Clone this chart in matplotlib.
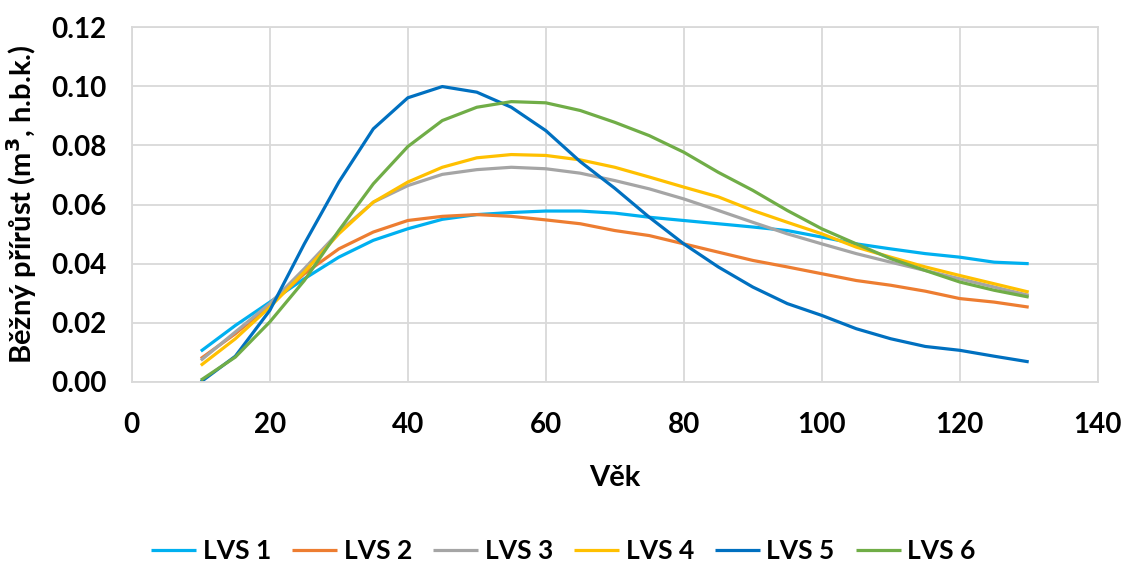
import matplotlib
matplotlib.use("Agg")
import matplotlib.pyplot as plt

plt.rcParams['font.family'] = ['Lato', 'DejaVu Sans']

age = [10, 15, 20, 25, 30, 35, 40, 45, 50, 55, 60, 65, 70, 75, 80, 85, 90,
       95, 100, 105, 110, 115, 120, 125, 130]

lvs1 = [0.0104, 0.0191, 0.0270, 0.0349, 0.0422, 0.0479, 0.0518, 0.0550, 0.0566,
        0.0573, 0.0578, 0.0578, 0.0571, 0.0557, 0.0546, 0.0535, 0.0524, 0.0512,
        0.0490, 0.0467, 0.0450, 0.0434, 0.0422, 0.0405, 0.0400]
lvs2 = [0.0079, 0.0163, 0.0259, 0.0366, 0.0450, 0.0507, 0.0546, 0.0560, 0.0566,
        0.0560, 0.0548, 0.0535, 0.0512, 0.0495, 0.0467, 0.0439, 0.0411, 0.0389,
        0.0366, 0.0343, 0.0327, 0.0307, 0.0282, 0.0270, 0.0253]
lvs3 = [0.0073, 0.0169, 0.0265, 0.0383, 0.0507, 0.0608, 0.0664, 0.0702, 0.0718,
        0.0726, 0.0721, 0.0706, 0.0681, 0.0653, 0.0619, 0.0580, 0.0540, 0.0501,
        0.0467, 0.0434, 0.0405, 0.0377, 0.0349, 0.0321, 0.0293]
lvs4 = [0.0056, 0.0146, 0.0253, 0.0372, 0.0501, 0.0608, 0.0676, 0.0726, 0.0758,
        0.0769, 0.0766, 0.0751, 0.0726, 0.0693, 0.0659, 0.0626, 0.0580, 0.0540,
        0.0501, 0.0456, 0.0422, 0.0389, 0.0360, 0.0332, 0.0304]
lvs5 = [0.0000, 0.0087, 0.0242, 0.0467, 0.0676, 0.0856, 0.0961, 0.0999, 0.0980,
        0.0929, 0.0850, 0.0745, 0.0655, 0.0557, 0.0467, 0.0389, 0.0321, 0.0265,
        0.0225, 0.0180, 0.0146, 0.0120, 0.0107, 0.0087, 0.0068]
lvs6 = [0.0006, 0.0084, 0.0203, 0.0343, 0.0512, 0.0670, 0.0796, 0.0884, 0.0929,
        0.0948, 0.0944, 0.0918, 0.0878, 0.0833, 0.0777, 0.0709, 0.0648, 0.0580,
        0.0518, 0.0467, 0.0417, 0.0377, 0.0338, 0.0310, 0.0287]

series = [("LVS 1", lvs1, "#00B0F0"),
          ("LVS 2", lvs2, "#ED7D31"),
          ("LVS 3", lvs3, "#A5A5A5"),
          ("LVS 4", lvs4, "#FFC000"),
          ("LVS 5", lvs5, "#0070C0"),
          ("LVS 6", lvs6, "#70AD47")]

fig = plt.figure(figsize=(11.27, 5.65), dpi=100)
ax = fig.add_axes([0.117, 0.324, 0.857, 0.628])

for name, vals, col in series:
    ax.plot(age, vals, color=col, lw=2.3, label=name, solid_capstyle='butt')

ax.set_xlim(0, 140)
ax.set_ylim(0, 0.12)
ax.set_xticks(range(0, 141, 20))
ax.set_yticks([0.0, 0.02, 0.04, 0.06, 0.08, 0.10, 0.12])
ax.set_yticklabels([f"{v:.2f}" for v in ax.get_yticks()])
ax.grid(True, color="#d9d9d9", lw=1.3)
ax.set_axisbelow(True)
for s in ax.spines.values():
    s.set_color("#d9d9d9")
    s.set_linewidth(1.3)
ax.tick_params(length=0, labelsize=20)
ax.tick_params(axis='x', pad=22)
ax.tick_params(axis='y', pad=18)
for lbl in ax.get_xticklabels() + ax.get_yticklabels():
    lbl.set_fontweight('bold')

ax.set_xlabel("Věk", fontsize=21, fontweight='bold', labelpad=19)
ax.set_ylabel("Běžný přírůst (m$^{\\mathbf{3}}$, h.b.k.)", fontsize=21,
              fontweight='bold', labelpad=9)

leg = fig.legend(loc='center', bbox_to_anchor=(0.50, 0.025), ncol=6,
                 frameon=False, handlelength=1.7,
                 handletextpad=0.25, columnspacing=0.8,
                 prop={'weight': 'bold', 'size': 19})

fig.savefig("out.png", dpi=100)
